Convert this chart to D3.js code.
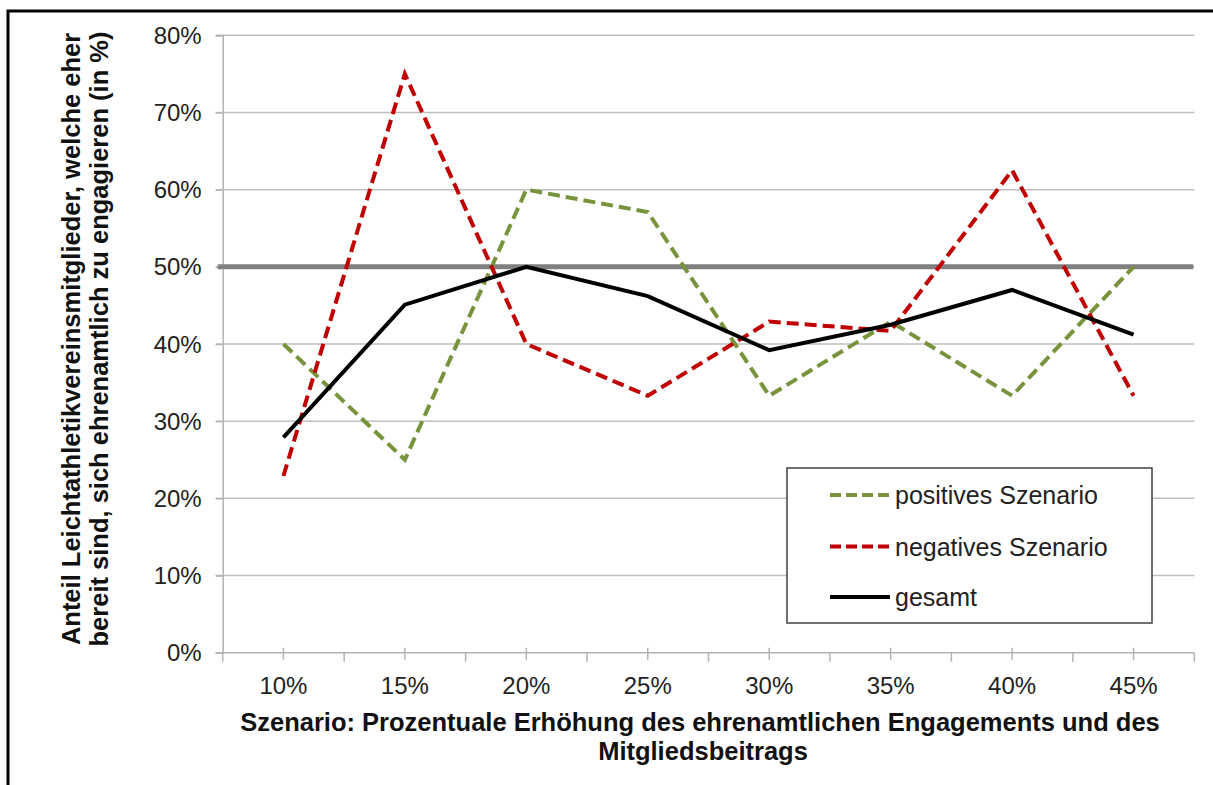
<!DOCTYPE html>
<html>
<head>
<meta charset="utf-8">
<script src="https://cdn.jsdelivr.net/npm/d3@7"></script>
<style>
  html, body { margin: 0; padding: 0; background: #fff; }
  svg { display: block; font-family: "Liberation Sans", Arial, sans-serif; }
</style>
</head>
<body>
<svg id="chart" width="1213" height="785"></svg>
<script>
const categories = ["10%", "15%", "20%", "25%", "30%", "35%", "40%", "45%"];
const positives = [40, 25, 60, 57.1, 33.3, 42.9, 33.3, 50];
const negatives = [22.9, 75, 40, 33.3, 42.9, 41.7, 62.5, 33.3];
const gesamt = [27.9, 45.1, 50, 46.2, 39.2, 42.5, 47.0, 41.2];
const referenceLevel = 50;
const yTicks = [0, 10, 20, 30, 40, 50, 60, 70, 80];
const seriesNames = ["positives Szenario", "negatives Szenario", "gesamt"];

(function () {
const svg = d3.select("#chart");

// outer frame
svg.append("rect").attr("x", 8).attr("y", 11).attr("width", 1400).attr("height", 900)
  .attr("fill", "none").attr("stroke", "#000").attr("stroke-width", 3);

const pLeft = 222.7, pRight = 1194.3, pTop = 35.3, pBottom = 652.7;
const x = d3.scaleBand().domain(categories).range([pLeft, pRight]).padding(0);
const y = d3.scaleLinear().domain([0, 80]).range([pBottom, pTop]);
const cx = c => x(c) + x.bandwidth() / 2;

// gridlines
svg.append("g").selectAll("line").data(yTicks.filter(d => d > 0)).join("line")
  .attr("x1", pLeft - 7).attr("x2", pRight)
  .attr("y1", d => y(d)).attr("y2", d => y(d))
  .attr("stroke", "#bfbfbf").attr("stroke-width", 1.5);

// y axis
const yAxis = svg.append("g").attr("transform", `translate(${pLeft},0)`)
  .call(d3.axisLeft(y).tickValues(yTicks).tickSize(7).tickPadding(14).tickFormat(d => d + "%"));
yAxis.select(".domain").attr("stroke", "#b3b3b3").attr("stroke-width", 1.5);
yAxis.selectAll(".tick line").attr("stroke", "#b3b3b3").attr("stroke-width", 1.5);
yAxis.selectAll(".tick text").attr("font-size", 24).attr("fill", "#222")
  .attr("font-family", "'Liberation Sans', Arial, sans-serif").attr("dy", "0.34em");

// x axis line
svg.append("line").attr("x1", pLeft - 7).attr("x2", pRight).attr("y1", pBottom).attr("y2", pBottom)
  .attr("stroke", "#b3b3b3").attr("stroke-width", 1.5);
// boundary ticks
const bounds = categories.map(c => x(c)).concat([pRight]);
svg.append("g").selectAll("line").data(bounds).join("line")
  .attr("x1", d => d).attr("x2", d => d).attr("y1", pBottom).attr("y2", pBottom + 9)
  .attr("stroke", "#b3b3b3").attr("stroke-width", 1.5);
// center ticks + labels
const xAxis = svg.append("g").attr("transform", `translate(0,${pBottom})`)
  .call(d3.axisBottom(x).tickSizeInner(7).tickSizeOuter(0).tickPadding(17));
xAxis.select(".domain").remove();
xAxis.selectAll(".tick line").attr("y1", -5).attr("stroke", "#b3b3b3").attr("stroke-width", 1.5);
xAxis.selectAll(".tick text").attr("font-size", 24).attr("fill", "#222")
  .attr("font-family", "'Liberation Sans', Arial, sans-serif");

// 50% reference line
svg.append("line").attr("x1", pLeft - 5).attr("x2", pRight - 1)
  .attr("y1", y(referenceLevel)).attr("y2", y(referenceLevel))
  .attr("stroke", "#808080").attr("stroke-width", 5);

const line = d3.line().x((d, i) => cx(categories[i])).y(d => y(d));
const styles = [
  { data: positives, color: "#77933c", dash: "12,6", width: 4 },
  { data: negatives, color: "#c00000", dash: "12,6", width: 4 },
  { data: gesamt, color: "#000000", dash: null, width: 4 }
];
styles.forEach(s => {
  svg.append("path").datum(s.data).attr("d", line)
    .attr("fill", "none").attr("stroke", s.color).attr("stroke-width", s.width)
    .attr("stroke-dasharray", s.dash).attr("stroke-linejoin", "miter");
});

// legend
const lg = svg.append("g");
lg.append("rect").attr("x", 787).attr("y", 468).attr("width", 365).attr("height", 155)
  .attr("fill", "#fff").attr("stroke", "#404040").attr("stroke-width", 1.5);
const rowsY = [495, 546.5, 597];
seriesNames.forEach((n, i) => {
  lg.append("line").attr("x1", 830).attr("x2", 890).attr("y1", rowsY[i]).attr("y2", rowsY[i])
    .attr("stroke", styles[i].color).attr("stroke-width", styles[i].width)
    .attr("stroke-dasharray", i < 2 ? "11,5" : null);
  lg.append("text").attr("x", 895).attr("y", rowsY[i] + 9).attr("font-size", 25)
    .attr("fill", "#222").text(n);
});

// axis titles
svg.append("text").attr("x", 700).attr("y", 731).attr("text-anchor", "middle")
  .attr("font-size", 25.5).attr("font-weight", "bold").attr("fill", "#111")
  .text("Szenario: Prozentuale Erhöhung des ehrenamtlichen Engagements und des");
svg.append("text").attr("x", 703).attr("y", 760).attr("text-anchor", "middle")
  .attr("font-size", 25.5).attr("font-weight", "bold").attr("fill", "#111")
  .text("Mitgliedsbeitrags");

const yt = svg.append("text").attr("transform", "translate(80,339) rotate(-90)")
  .attr("text-anchor", "middle").attr("font-size", 25.5).attr("font-weight", "bold").attr("fill", "#111");
yt.append("tspan").attr("x", 0).attr("y", 0).text("Anteil Leichtathletikvereinsmitglieder, welche eher");
yt.append("tspan").attr("x", 0).attr("y", 28).text("bereit sind, sich ehrenamtlich zu engagieren (in %)");
})();
</script>
</body>
</html>
